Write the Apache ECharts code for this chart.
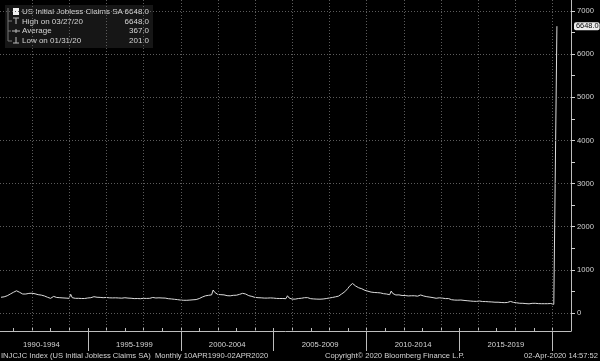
<!DOCTYPE html>
<html><head><meta charset="utf-8">
<script src="https://cdn.jsdelivr.net/npm/echarts@6/dist/echarts.min.js"></script>
<style>html,body{margin:0;padding:0;background:#000;overflow:hidden}#c{width:600px;height:361px}</style>
</head><body><div id="c"></div>
<script>
// Monthly series starts April 1990 (end-of-month observations)
const startYear = 1990, startMonth = 4;
const claims1990_1994 = [
  365,370,375,385,400,420,440,465,480,
  500,515,505,480,455,440,435,440,445,455,460,458,
  450,445,435,425,420,415,405,395,380,365,350,340,
  360,385,375,360,352,355,355,350,345,345,348,340,
  433,355,345,340,340,340,336,336,332,336,345,348
];
const claims1995_1999 = [
  350,355,365,378,372,365,370,362,356,355,358,360,
  400,352,348,350,354,352,354,348,346,344,350,354,
  352,346,342,342,338,334,334,336,330,332,336,340,
  342,338,340,340,342,360,394,348,340,352,345,348,
  352,346,338,332,325,326,322,318,318,310,305,300
];
const claims2000_2004 = [
  298,295,294,295,298,300,304,306,306,312,322,335,
  355,370,385,398,405,410,415,420,533,480,450,430,
  456,425,418,420,412,402,395,398,408,410,405,412,
  425,432,442,456,450,440,422,402,395,385,372,362,
  356,355,352,352,348,346,346,346,350,350,346,346
];
const claims2005_2009 = [
  342,338,336,336,340,336,332,332,400,350,326,322,
  322,322,330,336,340,342,346,355,363,356,342,332,
  330,326,325,322,320,320,320,325,330,335,342,348,
  355,360,366,375,382,392,420,442,470,492,533,570,
  620,655,685,645,626,610,585,572,562,545,525,505
];
const claims2010_2014 = [
  505,495,485,482,476,475,472,480,466,456,448,442,
  440,432,425,510,452,432,418,420,420,412,406,402,
  405,400,396,404,400,400,400,395,390,394,418,386,
  394,385,378,372,368,362,356,348,342,362,352,360,
  346,340,334,326,335,318,308,304,300,296,298,300
];
const claims2015_2019 = [
  301,300,292,286,285,282,278,276,272,268,270,276,
  278,272,266,262,265,264,260,260,256,255,250,254,
  250,246,244,244,240,244,244,242,268,248,246,245,
  236,228,226,226,225,224,218,216,213,216,224,224,
  225,224,218,217,216,220,216,216,216,216,220,224
];
const claims2020 = [201, 215, 6648];
const claims = [].concat(claims1990_1994, claims1995_1999, claims2000_2004,
  claims2005_2009, claims2010_2014, claims2015_2019, claims2020);

const periodLabels = ['1990-1994','1995-1999','2000-2004','2005-2009','2010-2014','2015-2019'];
const periodCenters = [1992.5,1997.5,2002.5,2007.5,2012.5,2017.5];
const periodBreaks = [1995,2000,2005,2010,2015,2020];
const gridYears = [1992,1994,1996,1998,2000,2002,2004,2006,2008,2010,2012,2014,2016,2018,2020];
const yearTicks = [1991,1992,1993,1994,1995,1996,1997,1998,1999,2000,2001,2002,2003,2004,2005,
  2006,2007,2008,2009,2010,2011,2012,2013,2014,2015,2016,2017,2018,2019,2020];
const yLabelValues = [0,1000,2000,3000,4000,5000,6000,7000];
const yTickValues = [0,500,1000,1500,2000,2500,3000,3500,4000,4500,5000,5500,6000,6500,7000];
const lastValue = 6648.0;
const legendNames = ['US Initial Jobless Claims SA','High on 03/27/20','Average','Low on 01/31/20'];
const legendValues = ['6648.0','6648.0','367.0','201.0'];
const footerLeft = 'INJCJC Index (US Initial Jobless Claims SA)  Monthly 10APR1990-02APR2020';
const footerMid = 'Copyright\u00a9 2020 Bloomberg Finance L.P.';
const footerRight = '02-Apr-2020 14:57:52';

const points = claims.map((v, i) => {
  const k = startMonth - 1 + i;
  const y = startYear + Math.floor(k / 12);
  const m = k % 12;
  return [y + (m + 0.9) / 12, v];
});

const FONT = 'Liberation Sans';
const TXT = '#d4d4d4';
const f = (s) => `${s}px "${FONT}"`;

const legendGraphic = [];
legendGraphic.push({type:'rect', shape:{x:5,y:5,width:148,height:43}, style:{fill:'#161616'}});
legendGraphic.push({type:'polyline', shape:{points:[[8,8],[8,41]]}, style:{stroke:'#777',lineWidth:1}});
legendGraphic.push({type:'polyline', shape:{points:[[8,21],[12,21]]}, style:{stroke:'#777',lineWidth:1}});
legendGraphic.push({type:'polyline', shape:{points:[[8,31],[11,31]]}, style:{stroke:'#777',lineWidth:1}});
legendGraphic.push({type:'polyline', shape:{points:[[8,41],[12,41]]}, style:{stroke:'#777',lineWidth:1}});
legendGraphic.push({type:'rect', shape:{x:13,y:8,width:6,height:7}, style:{fill:'#f0f0f0'}});
legendGraphic.push({type:'polyline', shape:{points:[[13,18],[19,18]]}, style:{stroke:'#bbb',lineWidth:1}});
legendGraphic.push({type:'polyline', shape:{points:[[16,18],[16,24]]}, style:{stroke:'#bbb',lineWidth:1}});
legendGraphic.push({type:'polyline', shape:{points:[[12,31],[20,31]]}, style:{stroke:'#bbb',lineWidth:1}});
legendGraphic.push({type:'polyline', shape:{points:[[16,29],[16,33]]}, style:{stroke:'#bbb',lineWidth:1}});
legendGraphic.push({type:'polyline', shape:{points:[[16,37],[16,43]]}, style:{stroke:'#bbb',lineWidth:1}});
legendGraphic.push({type:'polyline', shape:{points:[[13,43],[19,43]]}, style:{stroke:'#bbb',lineWidth:1}});
const rowY = [12, 21.5, 31, 40.5];
legendNames.forEach((n, i) => {
  legendGraphic.push({type:'text', x:22, y:rowY[i], style:{text:n, fill:TXT, font:f(8), verticalAlign:'middle'}});
  legendGraphic.push({type:'text', x:149, y:rowY[i], style:{text:legendValues[i], fill:TXT, font:f(8), align:'right', verticalAlign:'middle'}});
});

const chart = echarts.init(document.getElementById('c'), null, {renderer:'canvas'});
chart.setOption({
  backgroundColor:'#000',
  animation:false,
  textStyle:{fontFamily:FONT},
  grid:{left:0, right:29, top:0, bottom:30, containLabel:false, outerBoundsMode:'none'},
  xAxis:[
    {type:'value', min:1990.27, max:2021, position:'bottom',
     axisLine:{show:true, onZero:false, lineStyle:{color:'#bdbdbd', width:1}},
     axisTick:{show:true, inside:false, length:20, customValues:periodBreaks, lineStyle:{color:'#bdbdbd'}},
     axisLabel:{show:true, customValues:periodCenters, margin:10, color:TXT, fontSize:7.7, fontFamily:FONT,
       formatter:(v)=>{const i = periodCenters.indexOf(v); return i>=0 ? periodLabels[i] : '';}},
     splitLine:{show:false}},
    {type:'value', min:1990.27, max:2021, position:'bottom',
     axisLine:{show:false, onZero:false},
     axisTick:{show:true, inside:true, length:3, customValues:yearTicks, lineStyle:{color:'#bdbdbd'}},
     axisLabel:{show:false}, splitLine:{show:false}}
  ],
  yAxis:[
    {type:'value', min:-417, max:7255, position:'right',
     axisLine:{show:true, onZero:false, lineStyle:{color:'#bdbdbd'}},
     axisTick:{show:true, inside:false, length:4, customValues:yTickValues, lineStyle:{color:'#d0d0d0'}},
     axisLabel:{show:true, customValues:yLabelValues, margin:6, color:TXT, fontSize:7.6, fontFamily:FONT,
       formatter:(v)=>String(v)},
     splitLine:{show:false}},
    {type:'value', min:-417, max:7255, position:'right',
     axisLine:{show:false, onZero:false}, axisTick:{show:false}, splitLine:{show:false},
     axisLabel:{show:true, customValues:[lastValue], margin:3, color:'#000', backgroundColor:'#ececec',
       padding:[1,1,0,2], borderRadius:2, fontSize:7.4, fontFamily:FONT,
       formatter:(v)=>v.toFixed(1)}}
  ],
  series:[{
    type:'line', data:points, xAxisIndex:0, yAxisIndex:0,
    showSymbol:false, symbol:'none',
    lineStyle:{color:'#dcdcdc', width:1},
    z:3,
    markLine:{silent:true, symbol:['none','none'], label:{show:false},
      lineStyle:{color:'#5c5c5c', width:1, type:[1,2]},
      data:[].concat(gridYears.map(y=>({xAxis:y})), yLabelValues.map(v=>({yAxis:v})))}
  }],
  graphic:[].concat(legendGraphic, [
    {type:'text', x:1, y:356, style:{text:footerLeft, fill:TXT, font:f(7.6), verticalAlign:'middle'}},
    {type:'text', x:325, y:356, style:{text:footerMid, fill:TXT, font:f(7.6), verticalAlign:'middle'}},
    {type:'text', x:598, y:356, style:{text:footerRight, fill:TXT, font:f(7.6), align:'right', verticalAlign:'middle'}}
  ])
});
</script></body></html>
